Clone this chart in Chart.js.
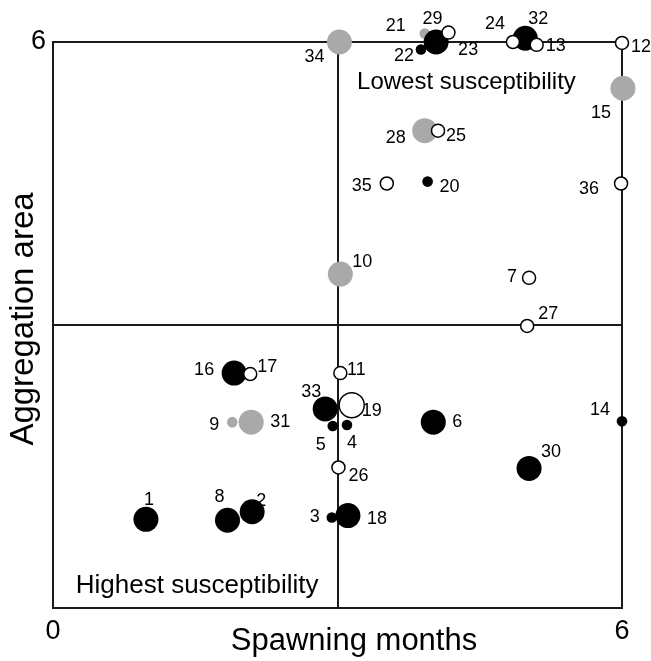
<!DOCTYPE html>
<html>
<head>
<meta charset="utf-8">
<script src="https://cdn.jsdelivr.net/npm/chart.js@4.4.1/dist/chart.umd.min.js"></script>
<style>
  html, body { margin: 0; padding: 0; background: #ffffff; }
  #wrap { width: 651px; height: 661px; }
</style>
</head>
<body>
<div id="wrap"><canvas id="c" width="651" height="661"></canvas></div>
<script>
// ---------------- DATA ----------------
// Black points
const blackIds  = ['1','8','2','3','18','16','33','5','4','6','14','30','20','22','23','32'];
const blackX    = [0.98, 1.84, 2.10, 2.94, 3.11, 1.91, 2.87, 2.95, 3.10, 4.01, 6.00, 5.02, 3.95, 3.88, 4.04, 4.98];
const blackY    = [0.94, 0.93, 1.02, 0.96, 0.98, 2.49, 2.11, 1.93, 1.94, 1.97, 1.98, 1.48, 4.52, 5.92, 6.00, 6.04];
const blackSize = ['L','L','L','S','L','L','L','S','S','L','S','L','S','S','L','L'];

// Grey points
const greyIds  = ['9','31','10','28','34','21','15'];
const greyX    = [1.89, 2.09, 3.03, 3.92, 3.02, 3.92, 6.01];
const greyY    = [1.97, 1.97, 3.54, 5.06, 6.00, 6.09, 5.51];
const greySize = ['S','L','L','L','L','S','L'];

// White (open) points
const whiteIds  = ['17','11','19','26','7','27','35','25','36','12','29','24','13'];
const whiteX    = [2.08, 3.03, 3.15, 3.01, 5.02, 5.00, 3.52, 4.06, 5.99, 6.00, 4.17, 4.85, 5.10];
const whiteY    = [2.48, 2.49, 2.15, 1.49, 3.50, 2.99, 4.50, 5.06, 4.50, 5.99, 6.10, 6.00, 5.97];
const whiteSize = ['M','M','L','M','M','M','M','M','M','M','M','M','M'];

// Axis tick labels
const xTickLabels = ['0', '6'];
const yTickLabels = ['6'];
const xTickValues = [0, 6];
const yTickValues = [6];

// ---------------- LAYOUT / STYLE ----------------
const FONT = "'Liberation Sans', Arial, Helvetica, sans-serif";
const radiusOf = { S: 5.3, M: 6.5, L: 12.5 };
const LINE = '#1a1a1a';

// label text offsets (pixels from marker centre)
const labelOffset = {
  '1':[3,-19], '8':[-8,-23], '2':[9,-11], '3':[-17,0], '18':[29,3],
  '16':[-30,-3], '17':[17,-7], '11':[16,-3], '33':[-14,-17], '19':[20,6],
  '9':[-18,3], '31':[29,0], '5':[-12,19], '4':[5,18], '6':[24,0],
  '26':[20,9], '7':[-17,-1], '27':[21,-12], '14':[-22,-11], '30':[22,-16],
  '34':[-25,15], '21':[-29,-7], '29':[-16,-14], '22':[-17,6], '23':[32,8],
  '24':[-18,-18], '32':[13,-19], '13':[19,1], '12':[19,4], '15':[-22,25],
  '28':[-29,7], '25':[18,5], '35':[-25,3], '20':[22,5], '36':[-32,6],
  '10':[22,-12]
};

function pts(xs, ys) { return xs.map((x, i) => ({ x: x, y: ys[i] })); }

const annotPlugin = {
  id: 'annot',
  beforeDatasetsDraw(chart) {
    const ctx = chart.ctx;
    ctx.save();
    ctx.fillStyle = '#000';
    ctx.font = '18px ' + FONT;
    ctx.textAlign = 'center';
    ctx.textBaseline = 'middle';
    chart.data.datasets.forEach((ds, di) => {
      const meta = chart.getDatasetMeta(di);
      meta.data.forEach((el, i) => {
        const id = ds.ids[i];
        const off = labelOffset[id] || [15, 0];
        ctx.fillText(id, el.x + off[0], el.y + off[1]);
      });
    });
    ctx.restore();
  },
  // draw the library's point elements without the chart-area cull,
  // so markers sitting on / just past the frame stay visible
  beforeDatasetDraw(chart, args) {
    const ctx = chart.ctx;
    ctx.save();
    args.meta.data.forEach((el) => el.draw(ctx));
    ctx.restore();
    return false;
  },
  afterDraw(chart) {
    const ctx = chart.ctx;
    const xs = chart.scales.x, ys = chart.scales.y;
    ctx.save();
    ctx.fillStyle = '#000';
    ctx.textAlign = 'center';
    ctx.textBaseline = 'middle';
    ctx.font = '24px ' + FONT;
    ctx.fillText('Lowest susceptibility', xs.getPixelForValue(4.36), ys.getPixelForValue(5.57));
    ctx.font = '26px ' + FONT;
    ctx.fillText('Highest susceptibility', xs.getPixelForValue(1.52), ys.getPixelForValue(0.23));
    ctx.font = '31px ' + FONT;
    ctx.fillText('Spawning months', 354, 641);
    ctx.font = '33px ' + FONT;
    ctx.translate(24, 319);
    ctx.rotate(-Math.PI / 2);
    ctx.fillText('Aggregation area', 0, 0);
    ctx.restore();
  }
};

new Chart(document.getElementById('c'), {
  type: 'scatter',
  data: {
    datasets: [
      {
        ids: whiteIds,
        data: pts(whiteX, whiteY),
        backgroundColor: '#ffffff',
        borderColor: '#000000',
        borderWidth: 1.5,
        pointRadius: (c) => radiusOf[whiteSize[c.dataIndex]],
        clip: false
      },
      {
        ids: blackIds,
        data: pts(blackX, blackY),
        backgroundColor: '#000000',
        borderColor: '#000000',
        borderWidth: 0,
        pointRadius: (c) => radiusOf[blackSize[c.dataIndex]],
        clip: false
      },
      {
        ids: greyIds,
        data: pts(greyX, greyY),
        backgroundColor: '#a9a9a9',
        borderColor: '#a9a9a9',
        borderWidth: 0,
        pointRadius: (c) => radiusOf[greySize[c.dataIndex]],
        clip: false
      }
    ]
  },
  options: {
    responsive: false,
    animation: false,
    events: [],
    layout: { padding: { left: 0, top: 42, right: 29, bottom: 0 } },
    plugins: { legend: { display: false }, tooltip: { enabled: false } },
    scales: {
      x: {
        type: 'linear', min: 0, max: 6,
        afterFit: (s) => { s.height = 53; },
        afterBuildTicks: (s) => { s.ticks = [0, 3, 6].map(v => ({ value: v })); },
        grid: { color: LINE, lineWidth: 2, drawTicks: false },
        border: { display: true, color: LINE, width: 2 },
        ticks: {
          padding: 7, color: '#000', font: { family: FONT, size: 27 }, maxRotation: 0,
          callback: (v) => { const k = xTickValues.indexOf(v); return k >= 0 ? xTickLabels[k] : ''; }
        }
      },
      y: {
        type: 'linear', min: 0, max: 6,
        afterFit: (s) => { s.width = 53; },
        afterBuildTicks: (s) => { s.ticks = [0, 3, 6].map(v => ({ value: v })); },
        grid: { color: LINE, lineWidth: 2, drawTicks: false },
        border: { display: true, color: LINE, width: 2 },
        ticks: {
          padding: 7, color: '#000', font: { family: FONT, size: 27 },
          callback: (v) => { const k = yTickValues.indexOf(v); return k >= 0 ? yTickLabels[k] : ''; }
        }
      }
    }
  },
  plugins: [annotPlugin]
});
</script>
</body>
</html>
